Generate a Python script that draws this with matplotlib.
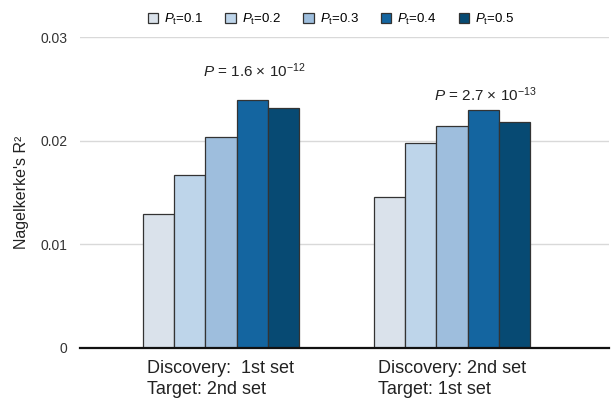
import matplotlib
matplotlib.use("Agg")
import matplotlib.pyplot as plt
import numpy as np

plt.rcParams['font.family'] = ['Liberation Sans', 'DejaVu Sans']
plt.rcParams['mathtext.fontset'] = 'custom'
plt.rcParams['mathtext.rm'] = 'Liberation Sans'
plt.rcParams['mathtext.it'] = 'Liberation Sans:italic'
plt.rcParams['mathtext.bf'] = 'Liberation Sans:bold'

groups = ["Discovery:  1st set\nTarget: 2nd set", "Discovery: 2nd set\nTarget: 1st set"]
thresholds = ["0.1", "0.2", "0.3", "0.4", "0.5"]
r2_values = [
    [0.0129, 0.0167, 0.0204, 0.0239, 0.0232],   # group 1
    [0.0146, 0.0198, 0.0214, 0.0230, 0.0218],   # group 2
]
p_labels = [r"$\it{P}$ = 1.6 × 10$^{−12}$", r"$\it{P}$ = 2.7 × 10$^{−13}$"]
yticks = [0, 0.01, 0.02, 0.03]
ytick_labels = ["0", "0.01", "0.02", "0.03"]

colors = ["#DAE2EB", "#BED5EA", "#9EBEDD", "#1465A0", "#074A73"]

fig = plt.figure(figsize=(6.11, 3.99), dpi=100)
ax = fig.add_axes([0.131, 0.128, 0.866, 0.779])

x = np.arange(len(groups))
w = 0.135
vals = np.array(r2_values)
for i, t in enumerate(thresholds):
    ax.bar(x + (i - 2) * w, vals[:, i], width=w, color=colors[i],
           edgecolor="#333333", linewidth=0.9, zorder=3,
           label=r"$\it{P}_{\rm t}$=" + t)

# P annotations (layout positions)
p_pos = [(0.143, 0.0268), (1.143, 0.0244)]
for gi in range(len(groups)):
    ax.text(x[gi] + (p_pos[gi][0] - gi), p_pos[gi][1], p_labels[gi],
            ha="center", va="center", fontsize=11, color="#222222")

ax.set_xlim(-0.61, 1.68)
ax.set_ylim(0, 0.03)
ax.set_yticks(yticks)
ax.set_yticklabels(ytick_labels, fontsize=10, color="#333333")
ax.tick_params(axis="y", length=0, pad=9)
ax.tick_params(axis="x", length=0, pad=9)
ax.set_xticks(x)
ax.set_xticklabels(groups, fontsize=13, color="#222222", multialignment="left",
                   linespacing=1.28)
ax.yaxis.grid(True, color="#D9D9D9", linewidth=1, zorder=0)
for s in ["left", "right", "top"]:
    ax.spines[s].set_visible(False)
ax.spines["bottom"].set_linewidth(1.6)
ax.spines["bottom"].set_color("#111111")
ax.spines["bottom"].set_zorder(4)
ax.set_ylabel("Nagelkerke's R²", fontsize=11.5, color="#222222", labelpad=8)

fig.legend(loc="upper center", bbox_to_anchor=(0.542, 1.0), ncol=5, frameon=False,
           fontsize=9.5, handlelength=0.8, handleheight=0.8, handletextpad=0.45,
           columnspacing=1.65)

fig.savefig("out.png", dpi=100)
